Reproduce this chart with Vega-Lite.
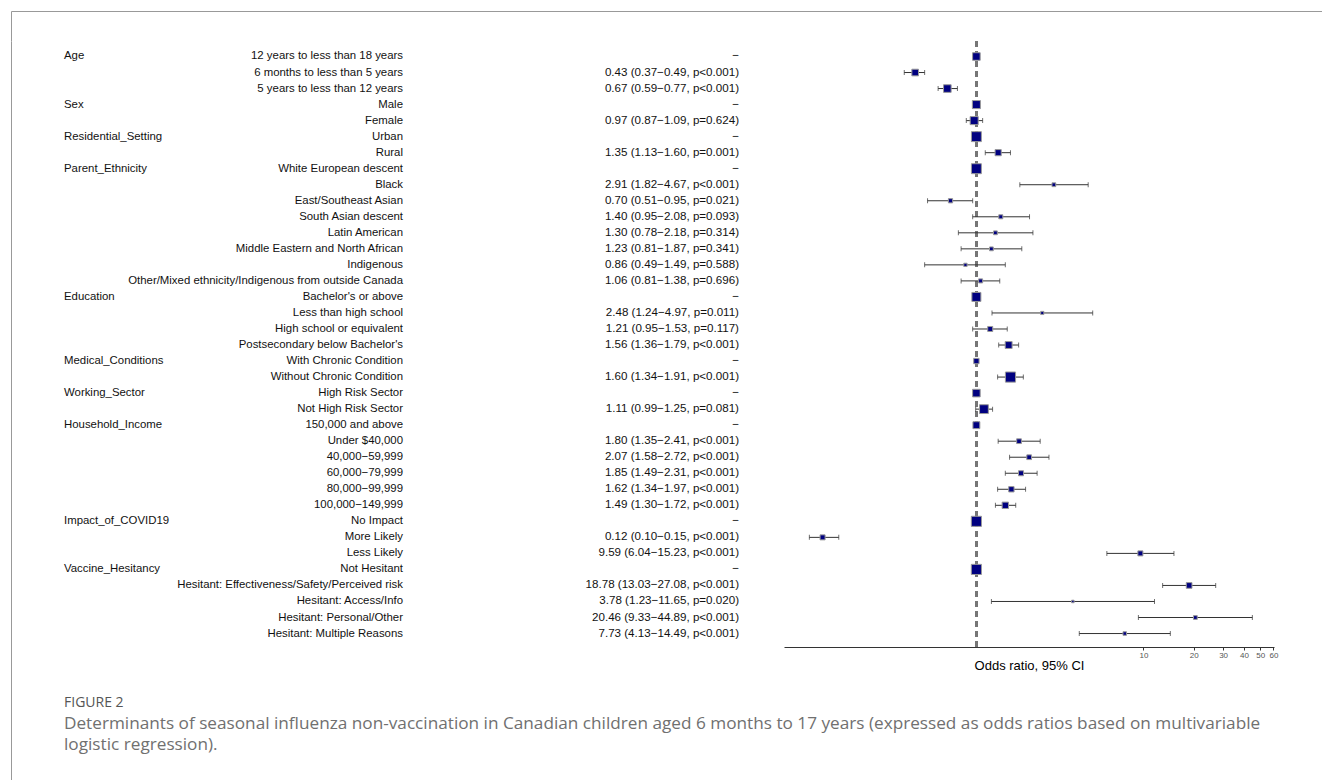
{
  "$schema": "https://vega.github.io/schema/vega-lite/v6.json",
  "padding": {"left": 11, "top": 11, "right": 0, "bottom": 0},
  "background": "white",
  "config": {"view": {"stroke": null}},
  "datasets": {
    "rows": [
      {"row": 1, "variable": "Age", "level": "12 years to less than 18 years", "label": "−", "or": 1, "lo": null, "hi": null, "w": 0.64},
      {"row": 2, "variable": "", "level": "6 months to less than 5 years", "label": "0.43 (0.37−0.49, p<0.001)", "or": 0.43, "lo": 0.37, "hi": 0.49, "w": 0.49},
      {"row": 3, "variable": "", "level": "5 years to less than 12 years", "label": "0.67 (0.59−0.77, p<0.001)", "or": 0.67, "lo": 0.59, "hi": 0.77, "w": 0.64},
      {"row": 4, "variable": "Sex", "level": "Male", "label": "−", "or": 1, "lo": null, "hi": null, "w": 0.72},
      {"row": 5, "variable": "", "level": "Female", "label": "0.97 (0.87−1.09, p=0.624)", "or": 0.97, "lo": 0.87, "hi": 1.09, "w": 0.72},
      {"row": 6, "variable": "Residential_Setting", "level": "Urban", "label": "−", "or": 1, "lo": null, "hi": null, "w": 1.1},
      {"row": 7, "variable": "", "level": "Rural", "label": "1.35 (1.13−1.60, p=0.001)", "or": 1.35, "lo": 1.13, "hi": 1.6, "w": 0.42},
      {"row": 8, "variable": "Parent_Ethnicity", "level": "White European descent", "label": "−", "or": 1, "lo": null, "hi": null, "w": 1.1},
      {"row": 9, "variable": "", "level": "Black", "label": "2.91 (1.82−4.67, p<0.001)", "or": 2.91, "lo": 1.82, "hi": 4.67, "w": 0.16},
      {"row": 10, "variable": "", "level": "East/Southeast Asian", "label": "0.70 (0.51−0.95, p=0.021)", "or": 0.7, "lo": 0.51, "hi": 0.95, "w": 0.2},
      {"row": 11, "variable": "", "level": "South Asian descent", "label": "1.40 (0.95−2.08, p=0.093)", "or": 1.4, "lo": 0.95, "hi": 2.08, "w": 0.18},
      {"row": 12, "variable": "", "level": "Latin American", "label": "1.30 (0.78−2.18, p=0.314)", "or": 1.3, "lo": 0.78, "hi": 2.18, "w": 0.16},
      {"row": 13, "variable": "", "level": "Middle Eastern and North African", "label": "1.23 (0.81−1.87, p=0.341)", "or": 1.23, "lo": 0.81, "hi": 1.87, "w": 0.16},
      {"row": 14, "variable": "", "level": "Indigenous", "label": "0.86 (0.49−1.49, p=0.588)", "or": 0.86, "lo": 0.49, "hi": 1.49, "w": 0.12},
      {"row": 15, "variable": "", "level": "Other/Mixed ethnicity/Indigenous from outside Canada", "label": "1.06 (0.81−1.38, p=0.696)", "or": 1.06, "lo": 0.81, "hi": 1.38, "w": 0.18},
      {"row": 16, "variable": "Education", "level": "Bachelor's or above", "label": "−", "or": 1, "lo": null, "hi": null, "w": 0.9},
      {"row": 17, "variable": "", "level": "Less than high school", "label": "2.48 (1.24−4.97, p=0.011)", "or": 2.48, "lo": 1.24, "hi": 4.97, "w": 0.11},
      {"row": 18, "variable": "", "level": "High school or equivalent", "label": "1.21 (0.95−1.53, p=0.117)", "or": 1.21, "lo": 0.95, "hi": 1.53, "w": 0.28},
      {"row": 19, "variable": "", "level": "Postsecondary below Bachelor's", "label": "1.56 (1.36−1.79, p<0.001)", "or": 1.56, "lo": 1.36, "hi": 1.79, "w": 0.53},
      {"row": 20, "variable": "Medical_Conditions", "level": "With Chronic Condition", "label": "−", "or": 1, "lo": null, "hi": null, "w": 0.32},
      {"row": 21, "variable": "", "level": "Without Chronic Condition", "label": "1.60 (1.34−1.91, p<0.001)", "or": 1.6, "lo": 1.34, "hi": 1.91, "w": 1.14},
      {"row": 22, "variable": "Working_Sector", "level": "High Risk Sector", "label": "−", "or": 1, "lo": null, "hi": null, "w": 0.64},
      {"row": 23, "variable": "", "level": "Not High Risk Sector", "label": "1.11 (0.99−1.25, p=0.081)", "or": 1.11, "lo": 0.99, "hi": 1.25, "w": 0.86},
      {"row": 24, "variable": "Household_Income", "level": "150,000 and above", "label": "−", "or": 1, "lo": null, "hi": null, "w": 0.53},
      {"row": 25, "variable": "", "level": "Under $40,000", "label": "1.80 (1.35−2.41, p<0.001)", "or": 1.8, "lo": 1.35, "hi": 2.41, "w": 0.25},
      {"row": 26, "variable": "", "level": "40,000−59,999", "label": "2.07 (1.58−2.72, p<0.001)", "or": 2.07, "lo": 1.58, "hi": 2.72, "w": 0.25},
      {"row": 27, "variable": "", "level": "60,000−79,999", "label": "1.85 (1.49−2.31, p<0.001)", "or": 1.85, "lo": 1.49, "hi": 2.31, "w": 0.28},
      {"row": 28, "variable": "", "level": "80,000−99,999", "label": "1.62 (1.34−1.97, p<0.001)", "or": 1.62, "lo": 1.34, "hi": 1.97, "w": 0.32},
      {"row": 29, "variable": "", "level": "100,000−149,999", "label": "1.49 (1.30−1.72, p<0.001)", "or": 1.49, "lo": 1.3, "hi": 1.72, "w": 0.45},
      {"row": 30, "variable": "Impact_of_COVID19", "level": "No Impact", "label": "−", "or": 1, "lo": null, "hi": null, "w": 1.14},
      {"row": 31, "variable": "", "level": "More Likely", "label": "0.12 (0.10−0.15, p<0.001)", "or": 0.12, "lo": 0.1, "hi": 0.15, "w": 0.28},
      {"row": 32, "variable": "", "level": "Less Likely", "label": "9.59 (6.04−15.23, p<0.001)", "or": 9.59, "lo": 6.04, "hi": 15.23, "w": 0.28},
      {"row": 33, "variable": "Vaccine_Hesitancy", "level": "Not Hesitant", "label": "−", "or": 1, "lo": null, "hi": null, "w": 1.14},
      {"row": 34, "variable": "", "level": "Hesitant: Effectiveness/Safety/Perceived risk", "label": "18.78 (13.03−27.08, p<0.001)", "or": 18.78, "lo": 13.03, "hi": 27.08, "w": 0.36},
      {"row": 35, "variable": "", "level": "Hesitant: Access/Info", "label": "3.78 (1.23−11.65, p=0.020)", "or": 3.78, "lo": 1.23, "hi": 11.65, "w": 0.07},
      {"row": 36, "variable": "", "level": "Hesitant: Personal/Other", "label": "20.46 (9.33−44.89, p<0.001)", "or": 20.46, "lo": 9.33, "hi": 44.89, "w": 0.16},
      {"row": 37, "variable": "", "level": "Hesitant: Multiple Reasons", "label": "7.73 (4.13−14.49, p<0.001)", "or": 7.73, "lo": 4.13, "hi": 14.49, "w": 0.14}
    ]
  },
  "spacing": 0,
  "bounds": "flush",
  "vconcat": [
    {
      "width": 1312,
      "height": 30,
      "data": {"values": [{}]},
      "mark": {"type": "text", "text": ""},
      "encoding": {
        "x": {"datum": 0, "type": "quantitative", "scale": {"domain": [0, 1]}, "axis": {"orient": "top", "domain": true, "domainColor": "#999", "domainWidth": 1, "ticks": false, "labels": false, "grid": false, "title": null}},
        "y": {"datum": 0, "type": "quantitative", "scale": {"domain": [0, 1]}, "axis": {"orient": "left", "domain": true, "domainColor": "#999", "domainWidth": 1, "ticks": false, "labels": false, "grid": false, "title": null}}
      }
    },
    {
      "spacing": 4,
      "bounds": "flush",
      "hconcat": [
        {
          "width": 1,
          "height": 740,
          "data": {"values": [{}]},
          "mark": {"type": "text", "text": ""},
          "encoding": {
            "y": {"datum": 0, "type": "quantitative", "scale": {"domain": [0, 1]}, "axis": {"orient": "left", "domain": true, "domainColor": "#999", "domainWidth": 1, "ticks": false, "labels": false, "grid": false, "title": null}}
          }
        },
        {
          "spacing": 0,
          "bounds": "flush",
          "title": {
            "text": "FIGURE 2",
            "subtitle": [
              "Determinants of seasonal influenza non-vaccination in Canadian children aged 6 months to 17 years (expressed as odds ratios based on multivariable",
              "logistic regression)."
            ],
            "orient": "bottom",
            "anchor": "start",
            "dx": 48,
            "offset": 24,
            "font": "Open Sans",
            "fontSize": 14,
            "fontWeight": "normal",
            "color": "#555",
            "subtitleFont": "Open Sans",
            "subtitleFontSize": 17.2,
            "subtitleColor": "#707070",
            "subtitlePadding": 5,
            "subtitleLineHeight": 21
          },
          "hconcat": [
            {
              "width": 96,
              "height": 606,
              "data": {"name": "rows"},
              "mark": {"type": "text", "align": "left", "baseline": "middle", "font": "Liberation Sans", "fontSize": 11.4, "color": "#111"},
              "encoding": {
                "y": {"field": "row", "type": "quantitative", "scale": {"domain": [0.033, 37.84], "reverse": true, "nice": false, "zero": false}, "axis": null},
                "text": {"field": "variable"}
              }
            },
            {
              "width": 582,
              "height": 606,
              "data": {"name": "rows"},
              "mark": {"type": "text", "align": "right", "baseline": "middle", "font": "Liberation Sans", "fontSize": 11.4, "color": "#111"},
              "encoding": {
                "y": {"field": "row", "type": "quantitative", "scale": {"domain": [0.033, 37.84], "reverse": true, "nice": false, "zero": false}, "axis": null},
                "text": {"field": "level"}
              }
            },
            {
              "width": 90,
              "height": 606,
              "data": {"name": "rows"},
              "mark": {"type": "text", "align": "right", "baseline": "middle", "font": "Liberation Sans", "fontSize": 11.6, "color": "#111"},
              "encoding": {
                "y": {"field": "row", "type": "quantitative", "scale": {"domain": [0.033, 37.84], "reverse": true, "nice": false, "zero": false}, "axis": null},
                "text": {"field": "label"}
              }
            },
            {
              "width": 490,
              "height": 606,
              "data": {"name": "rows"},
              "encoding": {
                "y": {"field": "row", "type": "quantitative", "scale": {"domain": [0.033, 37.84], "reverse": true, "nice": false, "zero": false}, "axis": null}
              },
              "layer": [
                {
                  "mark": {"type": "rule", "strokeDash": [6, 4], "color": "#777", "strokeWidth": 1.5},
                  "encoding": {
                    "x": {"datum": 1, "type": "quantitative", "scale": {"type": "log", "domain": [0.0705, 60.5], "nice": false}, "axis": {"values": [10, 20, 30, 40, 50, 60], "title": "Odds ratio, 95% CI", "grid": false, "domainColor": "#333", "tickColor": "#333", "tickSize": 3, "labelFont": "Liberation Sans", "labelFontSize": 8, "labelColor": "#555", "labelPadding": 1, "labelOverlap": false, "labelBound": false, "labelFlush": false, "titleFont": "Liberation Sans", "titleFontSize": 13, "titleFontWeight": "normal", "titleColor": "#000", "titlePadding": 0}},
                    "y": null
                  }
                },
                {
                  "transform": [{"filter": "datum.lo != null"}],
                  "mark": {"type": "rule", "color": "#333", "strokeWidth": 1},
                  "encoding": {
                    "x": {"field": "lo", "type": "quantitative"},
                    "x2": {"field": "hi"}
                  }
                },
                {
                  "transform": [{"filter": "datum.lo != null"}],
                  "mark": {"type": "tick", "orient": "vertical", "color": "#333", "thickness": 1, "size": 5},
                  "encoding": {"x": {"field": "lo", "type": "quantitative"}}
                },
                {
                  "transform": [{"filter": "datum.lo != null"}],
                  "mark": {"type": "tick", "orient": "vertical", "color": "#333", "thickness": 1, "size": 5},
                  "encoding": {"x": {"field": "hi", "type": "quantitative"}}
                },
                {
                  "mark": {"type": "square", "filled": true, "fill": "#000080", "stroke": "#999", "strokeWidth": 1, "opacity": 1},
                  "encoding": {
                    "x": {"field": "or", "type": "quantitative"},
                    "size": {"field": "w", "type": "quantitative", "scale": {"domain": [0, 1], "range": [0, 90], "zero": true}, "legend": null}
                  }
                }
              ]
            }
          ]
        }
      ]
    }
  ]
}
